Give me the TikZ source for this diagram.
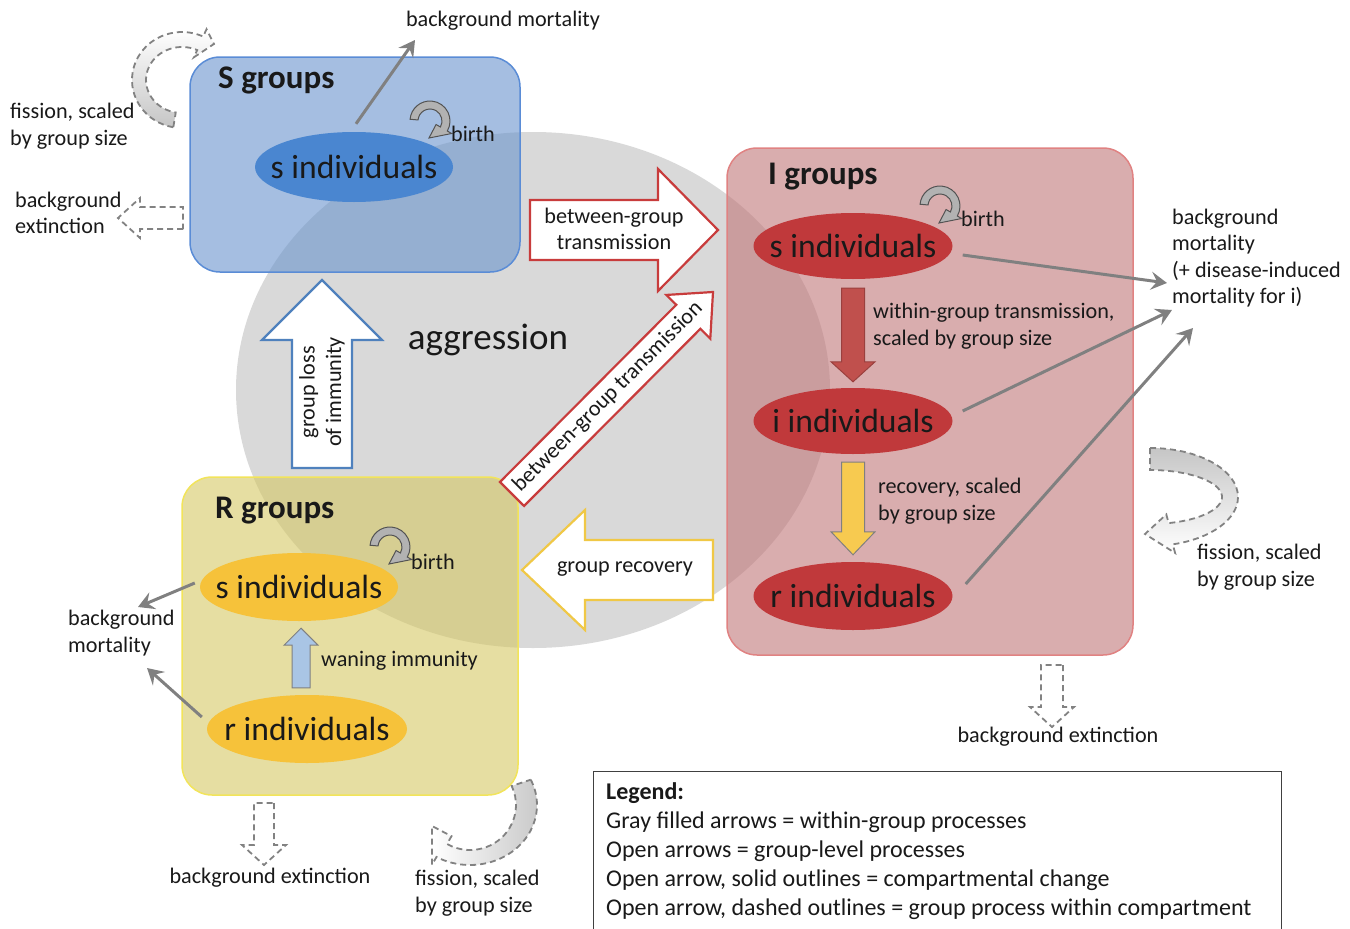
\documentclass[tikz,border=0pt]{standalone}
\usepackage{fontspec}
\setmainfont{Carlito}
\usetikzlibrary{calc,shapes.geometric,arrows.meta}
\definecolor{sfill}{RGB}{105,147,205}
\definecolor{sline}{RGB}{90,140,214}
\definecolor{ifill}{RGB}{192,118,120}
\definecolor{iline}{RGB}{224,130,130}
\definecolor{rfill}{RGB}{213,200,100}
\definecolor{rline}{RGB}{242,228,90}
\definecolor{sell}{RGB}{74,134,208}
\definecolor{iell}{RGB}{192,57,59}
\definecolor{rell}{RGB}{246,194,58}
\definecolor{mgray}{RGB}{128,128,128}
\definecolor{dgray}{RGB}{130,130,130}
\definecolor{redline}{RGB}{200,60,60}
\definecolor{blueline}{RGB}{79,129,189}
\definecolor{yelline}{RGB}{240,200,70}
\definecolor{redfill}{RGB}{192,80,77}
\definecolor{yelfill}{RGB}{247,202,80}
\definecolor{bluefill}{RGB}{169,197,229}
\definecolor{txt}{RGB}{25,25,25}

\newcommand\blockarrow[6][]{%
  \path ($(#3)!#6pt!(#2)$) coordinate (bahead);
  \draw[#1] ($(#2)!#4pt!90:(#3)$) -- ($(bahead)!#4pt!90:(#3)$) -- ($(bahead)!#5pt!90:(#3)$) -- (#3)
    -- ($(bahead)!#5pt!-90:(#3)$) -- ($(bahead)!#4pt!-90:(#3)$) -- ($(#2)!#4pt!-90:(#3)$) -- cycle;}
\def\cext{8}
\newcommand\curvarrow[9][]{%
  \draw[#1] ($(#2)+(#7:#3 and #4)$) arc[start angle=#7, end angle=#8, x radius=#3, y radius=#4]
    -- ($(#2)+(#8:{#3+\cext} and {#4+\cext})$) -- (#9) -- ($(#2)+(#8:{#5-\cext} and {#6-\cext})$)
    -- ($(#2)+(#8:#5 and #6)$) arc[start angle=#8, end angle=#7, x radius=#5, y radius=#6] -- cycle;}

\tikzset{
  grp/.style={rounded corners=30pt, line width=1.5pt, fill opacity=0.6},
  indiv/.style={ellipse, inner sep=0pt},
  indivtxt/.style={inner sep=0pt, text=txt, font=\fontsize{33.6}{36}\selectfont},
  lbl/.style={font=\fontsize{22.2}{26.5}\selectfont, inner sep=0pt, align=left, text=txt},
  ttl/.style={font=\fontsize{33}{36}\selectfont\bfseries, inner sep=0pt, text=txt, anchor=west},
  mort/.style={draw=mgray, line width=3pt, -{Stealth[length=16pt,width=18pt,inset=6pt]}},
  openarr/.style={fill=white, line width=2.2pt, line join=miter},
  dasharr/.style={fill=white, draw=dgray, line width=1.8pt, dash pattern=on 6pt off 4pt},
  fillarr/.style={line width=1pt, line join=miter},
  birtharr/.style={fill=gray!60, draw=gray!65!black, line width=1pt},
  fissarr/.style={draw=dgray, line width=1.8pt, dash pattern=on 6pt off 4pt},
}

\begin{document}
\begin{tikzpicture}[x=1pt,y=-1pt]
\useasboundingbox (0,0) rectangle (1350,929);

% aggression area
\fill[gray!30] (533,390) ellipse[x radius=297, y radius=258];
\node[font=\fontsize{37}{40}\selectfont, text=txt, inner sep=0pt] (aggr) at (488,340) {aggression};

% group boxes
\node[grp, fill=sfill, draw=sline, minimum width=330pt, minimum height=215pt] (Sbox) at (355,164.5) {};
\node[grp, fill=ifill, draw=iline, minimum width=406pt, minimum height=507pt] (Ibox) at (930,401.5) {};
\node[grp, fill=rfill, draw=rline, minimum width=336pt, minimum height=318pt] (Rbox) at (350,636) {};

\node[ttl] (Stitle) at (218,80) {S groups};
\node[ttl] (Ititle) at (768,177) {I groups};
\node[ttl] (Rtitle) at (215,511) {R groups};

% individuals
\node[indiv, fill=sell, minimum width=198pt, minimum height=70pt, label={[indivtxt]center:s individuals}] (Ss) at (354,167) {};
\node[indiv, fill=iell, minimum width=199pt, minimum height=66pt, label={[indivtxt]center:s individuals}] (Is) at (853,246) {};
\node[indiv, fill=iell, minimum width=199pt, minimum height=66pt, label={[indivtxt]center:i individuals}] (Ii) at (853,421) {};
\node[indiv, fill=iell, minimum width=199pt, minimum height=68pt, label={[indivtxt]center:r individuals}] (Ir) at (853,596) {};
\node[indiv, fill=rell, minimum width=198pt, minimum height=68pt, label={[indivtxt]center:s individuals}] (Rs) at (299,587) {};
\node[indiv, fill=rell, minimum width=200pt, minimum height=68pt, label={[indivtxt]center:r individuals}] (Rr) at (307,729) {};

% within-group filled arrows
\coordinate (wtS) at ($(Is.south)+(0,9)$);
\coordinate (wtE) at ($(Ii.north)+(0,-6)$);
\blockarrow[fillarr, fill=redfill, draw=redfill!80!black]{wtS}{wtE}{11.5}{22}{20}
\coordinate (rcS) at ($(Ii.south)+(0,8)$);
\coordinate (rcE) at ($(Ir.north)+(0,-7)$);
\blockarrow[fillarr, fill=yelfill, draw=gray]{rcS}{rcE}{11.5}{22}{23}
\coordinate (wnS) at ($(Rr.north)+(-6,-7)$);
\coordinate (wnE) at ($(Rs.south)+(2,7)$);
\blockarrow[fillarr, fill=bluefill, draw=gray]{wnS}{wnE}{9}{17}{17}

% birth arrows
\def\cext{5}
\coordinate (bSc) at (430,121); \coordinate (bSt) at (429,138);
\curvarrow[birtharr]{bSc}{20}{20}{12}{12}{185}{390}{bSt}
\coordinate (bIc) at (940,206); \coordinate (bIt) at (939,223);
\curvarrow[birtharr]{bIc}{20}{20}{12}{12}{185}{390}{bIt}
\coordinate (bRc) at (390,547); \coordinate (bRt) at (389,564);
\curvarrow[birtharr]{bRc}{20}{20}{12}{12}{185}{390}{bRt}
\node[lbl, anchor=west] (birthS) at (451,134) {birth};
\node[lbl, anchor=west] (birthI) at (961,219) {birth};
\node[lbl, anchor=west] (birthR) at (411,562) {birth};

% mortality connectors
\coordinate (mS) at (415,40);
\draw[mort] ($(Ss.north)+(2,-8)$) -- (mS);
\node[lbl, anchor=center] (mStxt) at (503,21) {background mortality};
\coordinate (mI1) at (1167,283);
\coordinate (mI2) at (1172,310);
\coordinate (mI3) at (1193,328);
\draw[mort] ($(Is.east)+(10,9)$) -- (mI1);
\draw[mort] ($(Ii.east)+(10,-10)$) -- (mI2);
\draw[mort] ($(Ir.east)+(13,-12)$) -- (mI3);
\node[lbl, anchor=west] (mItxt) at (1172,258) {background\\mortality\\(+ disease-induced\\mortality for i)};
\coordinate (mR1) at (138,607);
\coordinate (mR2) at (147,668);
\draw[mort] ($(Rs.west)+(-5,-4)$) -- (mR1);
\draw[mort] ($(Rr.west)+(-5,-12)$) -- (mR2);
\node[lbl, anchor=west] (mRtxt) at (68,633) {background\\mortality};

\node[lbl, anchor=west] (wtxt) at (873,326) {within-group transmission,\\scaled by group size};
\node[lbl, anchor=west] (rtxt) at (878,501) {recovery, scaled\\by group size};
\node[lbl, anchor=west] (wntxt) at (321,661) {waning immunity};

% group-level open arrows
\coordinate (loS) at (322,468); \coordinate (loE) at (322,280);
\blockarrow[openarr, draw=blueline]{loS}{loE}{30}{60}{60}
\node[lbl, align=center, rotate=90, anchor=center] (lotxt) at (322,392) {group loss\\of immunity};

\coordinate (bgS) at (530,230); \coordinate (bgE) at (718,230);
\blockarrow[openarr, draw=redline]{bgS}{bgE}{30}{61}{60}
\node[lbl, align=center] (bgtxt) at (614,229) {between-group\\transmission};

\coordinate (bdS) at (512,494); \coordinate (bdE) at (713,292);
\blockarrow[openarr, draw=redline]{bdS}{bdE}{17}{31}{35}
\node[lbl, rotate=45] (bdtxt) at (608,397) {between-group transmission};

\coordinate (grS) at (713,570); \coordinate (grE) at (522,570);
\blockarrow[openarr, draw=yelline]{grS}{grE}{30}{60}{63}
\node[lbl] (grtxt) at (625,569) {group recovery};

% background extinction (dashed open arrows)
\coordinate (exSs) at (183,218); \coordinate (exSe) at (118,218);
\blockarrow[dasharr]{exSs}{exSe}{11}{20}{22}
\node[lbl, anchor=west] (exStxt) at (15,213) {background\\extinction};
\coordinate (exRs) at (264,803); \coordinate (exRe) at (264,865);
\blockarrow[dasharr]{exRs}{exRe}{10}{22}{20}
\node[lbl] (exRtxt) at (270,878) {background extinction};
\coordinate (exIs) at (1052,665); \coordinate (exIe) at (1052,727);
\blockarrow[dasharr]{exIs}{exIe}{11}{22}{20}
\node[lbl] (exItxt) at (1058,737) {background extinction};

% fission arrows
\def\cext{8}
\coordinate (fSc) at (182,80); \coordinate (fSt) at (214,44);
\curvarrow[fissarr, top color=white, bottom color=gray!45]{fSc}{50}{48}{36}{33}{100}{295}{fSt}
\node[lbl, anchor=west] (fStxt) at (10,126) {fission, scaled\\by group size};
\def\cext{9}
\coordinate (fIc) at (1150,497); \coordinate (fIt) at (1145,534);
\curvarrow[fissarr, top color=gray!45, bottom color=white]{fIc}{88}{49}{72}{27}{270}{435}{fIt}
\node[lbl, anchor=west] (fItxt) at (1197,567) {fission, scaled\\by group size};
\coordinate (fRc) at (470,805); \coordinate (fRt) at (432,826);
\curvarrow[fissarr, left color=white, right color=gray!45]{fRc}{67}{60}{46}{45}{-25}{120}{fRt}
\node[lbl, anchor=west] (fRtxt) at (415,893) {fission, scaled\\by group size};

% legend
\node[draw=gray!50!black, line width=1.2pt, minimum width=688pt, minimum height=170pt, anchor=north west] (legbox) at (593,771) {};
\node[lbl, anchor=west, font=\fontsize{24}{29}\selectfont] (legtxt) at (606,851) {\textbf{Legend:}\\Gray filled arrows = within-group processes\\Open arrows = group-level processes\\Open arrow, solid outlines = compartmental change\\Open arrow, dashed outlines = group process within compartment};
\end{tikzpicture}
\end{document}
